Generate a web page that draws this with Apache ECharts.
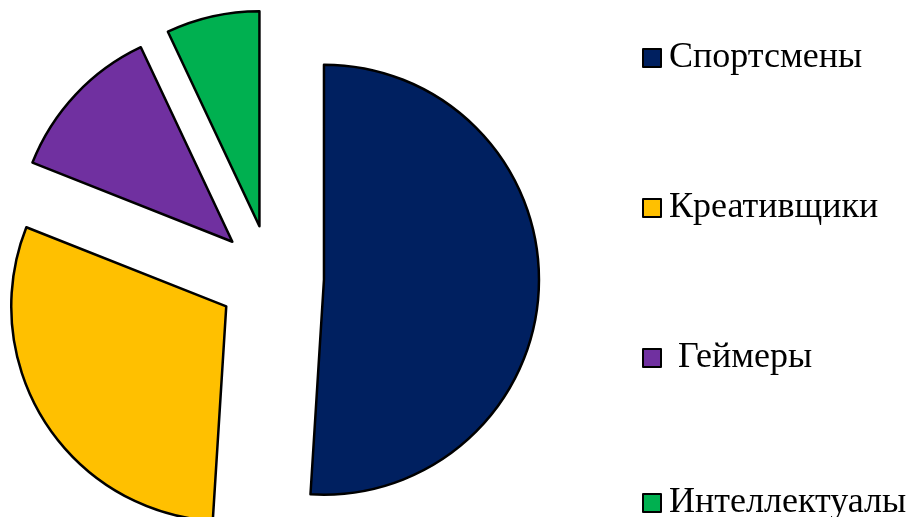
<!DOCTYPE html>
<html>
<head>
<meta charset="utf-8">
<script src="https://cdn.jsdelivr.net/npm/echarts@6/dist/echarts.min.js"></script>
<style>
  html, body { margin: 0; padding: 0; background: #ffffff; }
  #chart { width: 918px; height: 517px; }
</style>
</head>
<body>
<div id="chart"></div>
<script>
// Audience segments and their shares (%)
const categories = ['Спортсмены', 'Креативщики', 'Геймеры', 'Интеллектуалы'];
const shares = [51, 30, 12, 7];
const colors = ['#002060', '#FFC000', '#7030A0', '#00B050'];
// Legend caption text as printed (the gamers caption carries a leading space)
const legendCaptions = ['Спортсмены', 'Креативщики', ' Геймеры', 'Интеллектуалы'];
const legendTops = [40, 190, 340, 485];

const chart = echarts.init(document.getElementById('chart'), null, { renderer: 'canvas' });

const pieData = categories.map((name, i) => ({
  name: name,
  value: shares[i],
  selected: true,
  itemStyle: { color: colors[i] }
}));

const legends = categories.map((name, i) => ({
  data: [name],
  left: 642,
  top: legendTops[i],
  padding: 0,
  orient: 'vertical',
  icon: 'rect',
  itemWidth: 18,
  itemHeight: 18,
  itemGap: 8,
  selectedMode: false,
  formatter: () => legendCaptions[i],
  textStyle: {
    fontFamily: '"Liberation Serif", "Times New Roman", serif',
    fontSize: 36,
    color: '#000000',
    padding: [0, 0, 0, 3]
  }
}));

chart.setOption({
  animation: false,
  backgroundColor: '#ffffff',
  legend: legends,
  series: [{
    type: 'pie',
    center: [271, 278],
    radius: 215,
    startAngle: 90,
    clockwise: true,
    selectedMode: 'multiple',
    selectedOffset: 53,
    label: { show: false },
    labelLine: { show: false },
    itemStyle: { borderColor: '#000000', borderWidth: 2.5 },
    emphasis: { disabled: true, scale: false },
    select: { itemStyle: { borderColor: '#000000', borderWidth: 2.5 } },
    data: pieData
  }]
});
</script>
</body>
</html>
